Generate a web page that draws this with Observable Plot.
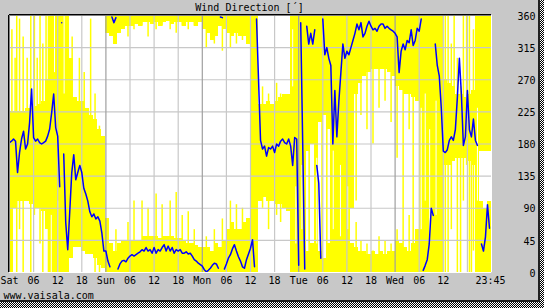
<!DOCTYPE html>
<html><head><meta charset="utf-8">
<script src="https://cdn.jsdelivr.net/npm/d3@7"></script>
<script src="https://cdn.jsdelivr.net/npm/@observablehq/plot@0.6"></script>
<style>
html,body{margin:0;padding:0;background:#fff;}
#wrap{position:relative;width:544px;height:308px;background:repeating-conic-gradient(#000 0% 25%, #fff 0% 50%) 0 0/2px 2px;}
#chart{position:absolute;left:0;top:0;width:538px;height:300px;background:#c8c8c8;border-right:2px solid #202020;border-bottom:2px solid #202020;}
#chart svg{display:block;}
</style></head><body><div id="wrap"><div id="chart"></div></div>
<script>
// Half-hourly average wind direction (degrees), Sat 00:00 .. Wed 23:30
const avgDir = [
  182,184,187,184,140,168,187,198,173,180, 210,257,189,184,187,182,180,182,184,191,
  201,224,250,203,191,120,350,166,70,32, 85,140,165,130,140,150,140,118,110,100,
  85,78,82,75,78,72,55,30,
  30,16,8,358,350,357,5,12,16,17, 15,20,23,25,23,25,27,29,32,30,
  35,30,32,27,35,27,32,30,35,39, 30,37,30,35,27,32,30,32,27,27,
  29,26,27,23,18,16,13,11,
  9,4,1,3,6,10,13,12,6,358, 357,5,12,20,25,33,39,30,22,16,
  8,6,18,26,34,46,8,355,270,185, 173,177,163,175,173,177,168,180,177,184,
  187,182,180,187,177,150,189,187,
  10,350,180,5,345,320,335,320,340,150, 125,20,355,305,315,300,290,180,255,190,
  240,280,320,300,310,305,315,325,335,348, 340,350,330,335,345,352,345,340,342,338,
  345,348,348,342,345,342,340,338,
  335,330,280,310,320,312,325,322,340,318, 325,342,338,355,3,10,18,40,90,80,
  320,290,275,230,170,168,172,185,190,185, 200,245,300,250,178,190,255,200,190,215,
  185,178,null,40,30,50,95,62
];
// Hourly min/max range (lo > hi means the range wraps through north)
const bandLo = [
  0,90,100,100,100,95,90,90,85,60,0,0,0,0,0,20,35,35,30,25,25,20,10,5,
  335,330,320,335,340,345,345,348,345,350,350,348,350,345,350,352,348,350,350,345,350,350,345,350,
  340,335,325,330,345,340,335,330,335,330,330,320,0,0,100,105,100,100,95,95,90,85,0,0,
  0,0,170,180,0,210,220,200,0,0,0,0,0,90,250,265,275,280,285,285,285,285,280,275,
  260,255,250,250,245,240,0,0,0,0,0,0,150,150,155,160,160,160,155,150,0,170,170,170
];
const bandHi = [
  225,225,225,225,230,230,232,235,240,270,360,360,360,360,360,300,245,240,240,230,220,215,200,190,
  75,40,30,40,45,45,45,45,45,50,50,50,50,48,50,50,50,48,48,45,40,40,38,35,
  35,35,30,40,35,45,60,70,60,60,70,75,360,360,235,235,240,235,240,245,250,250,360,360,
  360,360,30,40,360,30,20,40,360,360,360,360,360,40,35,30,30,25,30,25,30,25,30,30,
  45,40,35,30,40,60,360,360,360,360,360,360,270,265,260,250,250,245,250,255,360,100,90,100
];
// Short gust spikes of the range
const spikeHour = [0.6,1.4,1.8,2.5,3.4,4.4,5.3,6.2,6.9,7.6,8.3,9.1,9.7,15.6,17.4,18.6,20.2,21.3,22.4,
  26.5,29.5,31.0,33.0,34.5,36.5,38.0,40.0,41.5,43.0,44.5,46.0,
  49.0,51.0,53.0,55.0,56.5,58.0,63.0,64.5,66.5,67.5,
  74.6,77.8,79.0,86.3,87.5,89.0,90.5,92.0,93.5,95.0,
  96.5,98.0,99.5,100.5,108.5,109.2,110.0,110.7,111.5,112.3,113.0,113.8,114.5,115.0,115.5];
const spikeLo = [20,90,0,60,0,120,0,80,100,40,0,90,0,100,60,40,120,0,0,
  320,330,340,345,330,340,345,340,335,345,340,345,
  315,320,310,315,320,325,90,60,80,70,
  0,0,0,100,220,200,180,230,240,210,
  160,0,200,0,0,0,60,160,0,0,100,150,0,0,30];
const spikeHi = [340,300,360,355,330,300,360,360,300,360,320,360,360,330,300,280,355,250,205,
  60,70,100,100,90,110,95,100,112,80,85,60,
  50,60,75,100,95,90,260,250,265,250,
  360,360,360,70,45,40,30,50,45,40,
  60,360,80,360,360,360,320,360,300,260,360,360,360,250,340];
// White streaks inside the densest parts of the range
const gapHour = [10.4,11.2,12.0,13.6,70.5,71.3,72.8,76.5,80.6,82.4,84.2,102.5,103.5,104.6,106.2,116.5];
const gapLo = [0,280,0,250,260,40,60,40,60,50,60,60,100,40,80,100];
const gapHi = [80,360,100,360,340,120,150,160,170,150,120,230,250,200,240,230];
const xTickHours = [0,6,12,18,24,30,36,42,48,54,60,66,72,78,84,90,96,102,108,119.75];
const xTickLabels = ["Sat","06","12","18","Sun","06","12","18","Mon","06","12","18","Tue","06","12","18","Wed","06","12","23:45"];
const gridHours = d3.range(6, 120, 6).filter(h => h % 24 !== 0);
const dayHours = [24, 48, 72, 96];
const yTicks = [0,45,90,135,180,225,270,315,360];
const title = "Wind Direction [´]";
const footer = "www.vaisala.com";

// build range rectangles
const bandRows = [];
bandLo.forEach((lo, h) => {
  const hi = bandHi[h];
  if (lo <= hi) bandRows.push({x1: h, x2: h + 1, y1: lo, y2: hi});
  else { bandRows.push({x1: h, x2: h + 1, y1: lo, y2: 360}); bandRows.push({x1: h, x2: h + 1, y1: 0, y2: hi}); }
});
const spikeRows = [];
spikeHour.forEach((h, i) => {
  const lo = spikeLo[i], hi = spikeHi[i];
  if (lo <= hi) spikeRows.push({x: h, y1: lo, y2: hi});
  else { spikeRows.push({x: h, y1: lo, y2: 360}); spikeRows.push({x: h, y1: 0, y2: hi}); }
});
const gapRows = gapHour.map((h, i) => ({x: h, y1: gapLo[i], y2: gapHi[i]}));
// line points, split at wrap-arounds and gaps
const pts = [];
let seg = 0, prev = null;
avgDir.forEach((v, k) => {
  if (v == null) { seg++; prev = null; return; }
  if (prev != null && Math.abs(v - prev) > 180) seg++;
  pts.push({x: k / 2, y: v, seg});
  prev = v;
});

const chart = Plot.plot({
  width: 538, height: 300,
  marginLeft: 9, marginRight: 47, marginTop: 15, marginBottom: 28,
  style: {background: "transparent", fontFamily: "'DejaVu Sans Mono', monospace", fontSize: "10px", color: "black", overflow: "visible"},
  x: {domain: [0, 120], axis: null},
  y: {domain: [0, 360], axis: null},
  marks: [
    Plot.frame({fill: "white", stroke: null}),
    Plot.rect(bandRows, {x1: "x1", x2: "x2", y1: "y1", y2: "y2", fill: "#ffff00", shapeRendering: "crispEdges"}),
    Plot.ruleX(spikeRows, {x: "x", y1: "y1", y2: "y2", stroke: "#ffff00", strokeWidth: 1.5}),
    Plot.ruleX(gapRows, {x: "x", y1: "y1", y2: "y2", stroke: "white", strokeWidth: 1}),
    Plot.ruleY(yTicks.slice(1, -1), {stroke: "#c8c8c8", strokeWidth: 1.2}),
    Plot.ruleX(gridHours, {stroke: "#c8c8c8", strokeWidth: 1.2}),
    Plot.ruleX(dayHours, {stroke: "#a0a0a0", strokeWidth: 1.2}),
    Plot.line(pts, {x: "x", y: "y", z: "seg", stroke: "#0000ff", strokeWidth: 1.5}),
    Plot.ruleX([0], {stroke: "black", dx: -1}),
    Plot.ruleX([0], {stroke: "#808080"}),
    Plot.ruleY([360], {stroke: "black", dy: -1}),
    Plot.ruleY([360], {stroke: "#808080"}),
    Plot.ruleY([0], {stroke: "white"}),
    Plot.ruleX([120], {stroke: "white"}),
    Plot.text(xTickHours, {x: d => d, text: (d, i) => xTickLabels[i], frameAnchor: "bottom", lineAnchor: "bottom", dy: 11, fill: "black"}),
    Plot.text(yTicks, {y: d => d, text: d => String(d), frameAnchor: "right", textAnchor: "end", lineAnchor: "middle", dx: 44, dy: 1, fill: "black"}),
    Plot.text([title], {text: d => d, frameAnchor: "top", lineAnchor: "bottom", dy: -5, dx: -1, fill: "black"}),
    Plot.text([footer], {text: d => d, frameAnchor: "bottom-left", textAnchor: "start", lineAnchor: "bottom", dx: -6, dy: 26.5, fill: "black"})
  ]
});
document.getElementById("chart").appendChild(chart);
</script>
</body></html>
